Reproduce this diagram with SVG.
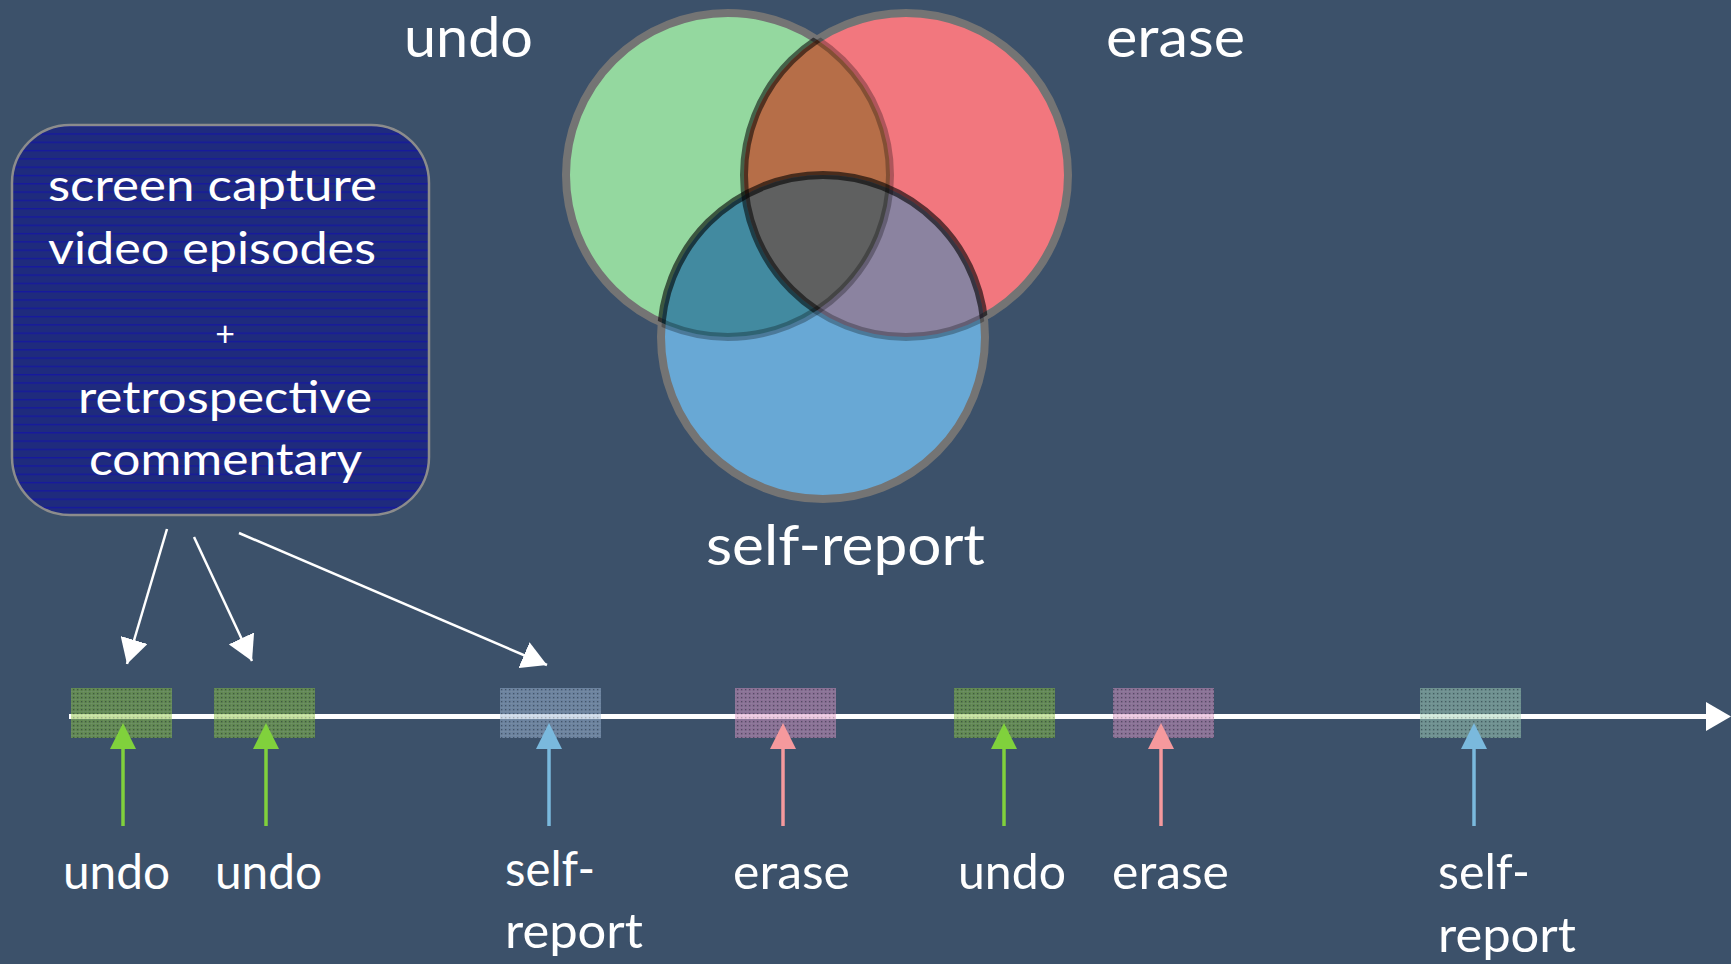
<svg xmlns="http://www.w3.org/2000/svg" width="1731" height="964" viewBox="0 0 1731 964">
<style>
  .lbl { font-family: Lato, "Liberation Sans", sans-serif; fill: #ffffff; }
  .big { font-size: 56px; }
  .box { font-size: 44px; }
  .sm { font-size: 48px; }
  .conn { stroke: #ffffff; stroke-width: 2.5; fill: none; }
  .evbox { opacity: 0.5; }
</style>
<defs>
  <pattern id="stripes" x="0" y="125" width="8" height="8.3" patternUnits="userSpaceOnUse">
    <rect width="8" height="8.3" fill="#1f2b7d"/>
    <rect y="0" width="8" height="1.4" fill="#16199e"/>
  </pattern>
  <pattern id="dots" width="4" height="4" patternUnits="userSpaceOnUse">
    <rect x="1" y="1" width="1.3" height="1.3" fill="#000000" opacity="0.5"/>
    <rect x="0" y="3" width="4" height="0.7" fill="#ffffff" opacity="0.2"/>
    <rect x="3" y="0" width="0.7" height="4" fill="#ffffff" opacity="0.12"/>
  </pattern>
  <clipPath id="cG"><circle cx="728" cy="175" r="162"/></clipPath>
  <clipPath id="cR"><circle cx="906" cy="175" r="162"/></clipPath>
  <clipPath id="cB"><circle cx="823" cy="337" r="162"/></clipPath>
  <mask id="mOutG" maskUnits="userSpaceOnUse" x="0" y="0" width="1731" height="964">
    <rect width="1731" height="964" fill="#fff"/>
    <circle cx="906" cy="175" r="162" fill="#000"/>
    <circle cx="823" cy="337" r="162" fill="#000"/>
  </mask>
  <mask id="mInG" maskUnits="userSpaceOnUse" x="0" y="0" width="1731" height="964">
    <circle cx="906" cy="175" r="162" fill="#fff"/>
    <circle cx="823" cy="337" r="162" fill="#fff"/>
  </mask>
  <mask id="mOutR" maskUnits="userSpaceOnUse" x="0" y="0" width="1731" height="964">
    <rect width="1731" height="964" fill="#fff"/>
    <circle cx="728" cy="175" r="162" fill="#000"/>
    <circle cx="823" cy="337" r="162" fill="#000"/>
  </mask>
  <mask id="mRinG" maskUnits="userSpaceOnUse" x="0" y="0" width="1731" height="964">
    <circle cx="728" cy="175" r="162" fill="#fff"/>
  </mask>
  <mask id="mRinBnotG" maskUnits="userSpaceOnUse" x="0" y="0" width="1731" height="964">
    <circle cx="823" cy="337" r="162" fill="#fff"/>
    <circle cx="728" cy="175" r="162" fill="#000"/>
  </mask>
  <mask id="mOutB" maskUnits="userSpaceOnUse" x="0" y="0" width="1731" height="964">
    <rect width="1731" height="964" fill="#fff"/>
    <circle cx="728" cy="175" r="162" fill="#000"/>
    <circle cx="906" cy="175" r="162" fill="#000"/>
  </mask>
  <mask id="mInB" maskUnits="userSpaceOnUse" x="0" y="0" width="1731" height="964">
    <circle cx="728" cy="175" r="162" fill="#fff"/>
    <circle cx="906" cy="175" r="162" fill="#fff"/>
  </mask>
  <marker id="wh" markerUnits="userSpaceOnUse" markerWidth="26" markerHeight="28" refX="25" refY="14" orient="auto" viewBox="0 0 26 28">
    <path d="M0,0 L25,14 L0,28 Z" fill="#ffffff"/>
  </marker>
</defs>

<rect width="1731" height="964" fill="#3c516a"/>

<!-- Venn diagram -->
<g id="venn">
  <g id="fills">
    <circle cx="728" cy="175" r="162" fill="#94d89f"/>
    <circle cx="906" cy="175" r="162" fill="#f2777e"/>
    <circle cx="823" cy="337" r="162" fill="#68a8d5"/>
    <circle cx="906" cy="175" r="162" fill="#b66e48" clip-path="url(#cG)"/>
    <circle cx="823" cy="337" r="162" fill="#428aa0" clip-path="url(#cG)"/>
    <circle cx="823" cy="337" r="162" fill="#8b83a0" clip-path="url(#cR)"/>
    <g clip-path="url(#cG)"><circle cx="823" cy="337" r="162" fill="#5f6060" clip-path="url(#cR)"/></g>
  </g>
  <g id="strokes" fill="none" stroke-width="8">
    <circle cx="728" cy="175" r="162" stroke="#747474" mask="url(#mOutG)"/>
    <circle cx="906" cy="175" r="162" stroke="#747474" mask="url(#mOutR)"/>
    <circle cx="823" cy="337" r="162" stroke="#747474" mask="url(#mOutB)"/>
    <circle cx="728" cy="175" r="162" stroke="#000" stroke-opacity="0.28" mask="url(#mInG)"/>
    <circle cx="906" cy="175" r="162" stroke="#000" stroke-opacity="0.55" mask="url(#mRinG)"/>
    <circle cx="906" cy="175" r="162" stroke="#000" stroke-opacity="0.28" mask="url(#mRinBnotG)"/>
    <circle cx="823" cy="337" r="162" stroke="#000" stroke-opacity="0.6" mask="url(#mInB)"/>
  </g>
</g>

<g id="venn-labels">
  <text class="lbl big" x="404" y="57" textLength="129" lengthAdjust="spacingAndGlyphs">undo</text>
  <text class="lbl big" x="1106" y="57" textLength="139" lengthAdjust="spacingAndGlyphs">erase</text>
  <text class="lbl big" x="706" y="565" textLength="279" lengthAdjust="spacingAndGlyphs">self-report</text>
</g>

<!-- Source box -->
<g id="source">
  <rect x="12" y="125" width="417" height="390" rx="58" ry="58" fill="url(#stripes)" stroke="#8c8c8c" stroke-width="2.5"/>
  <text class="lbl box" x="48" y="201" textLength="329" lengthAdjust="spacingAndGlyphs">screen capture</text>
  <text class="lbl box" x="48" y="264" textLength="328" lengthAdjust="spacingAndGlyphs">video episodes</text>
  <text class="lbl" x="225" y="346" font-size="34" text-anchor="middle">+</text>
  <text class="lbl box" x="78" y="413" textLength="294" lengthAdjust="spacingAndGlyphs">retrospective</text>
  <text class="lbl box" x="89" y="475" textLength="273" lengthAdjust="spacingAndGlyphs">commentary</text>
</g>

<!-- Timeline -->
<g id="timeline">
  <line x1="69" y1="716.5" x2="1710" y2="716.5" stroke="#ffffff" stroke-width="5"/>
  <polygon points="1706,702 1731,716.5 1706,731" fill="#ffffff"/>
</g>

<!-- Event boxes -->
<g id="events">
  <g id="ev1" class="evbox"><rect x="71" y="688" width="101" height="50" fill="#86c03a"/><rect x="71" y="688" width="101" height="50" fill="url(#dots)"/></g>
  <g id="ev2" class="evbox"><rect x="214" y="688" width="101" height="50" fill="#86c03a"/><rect x="214" y="688" width="101" height="50" fill="url(#dots)"/></g>
  <g id="ev3" class="evbox"><rect x="500" y="688" width="101" height="50" fill="#9ab4d2"/><rect x="500" y="688" width="101" height="50" fill="url(#dots)"/></g>
  <g id="ev4" class="evbox"><rect x="735" y="688" width="101" height="50" fill="#d88fc0"/><rect x="735" y="688" width="101" height="50" fill="url(#dots)"/></g>
  <g id="ev5" class="evbox"><rect x="954" y="688" width="101" height="50" fill="#86c03a"/><rect x="954" y="688" width="101" height="50" fill="url(#dots)"/></g>
  <g id="ev6" class="evbox"><rect x="1113" y="688" width="101" height="50" fill="#d88fc0"/><rect x="1113" y="688" width="101" height="50" fill="url(#dots)"/></g>
  <g id="ev7" class="evbox"><rect x="1420" y="688" width="101" height="50" fill="#9ed0b5"/><rect x="1420" y="688" width="101" height="50" fill="url(#dots)"/></g>
</g>

<!-- Connectors -->
<g id="connectors">
  <line class="conn" x1="167" y1="529" x2="127" y2="664" marker-end="url(#wh)"/>
  <line class="conn" x1="194" y1="537" x2="252" y2="661" marker-end="url(#wh)"/>
  <line class="conn" x1="239" y1="533" x2="547" y2="665" marker-end="url(#wh)"/>
</g>

<!-- Event arrows -->
<g id="event-arrows">
  <g fill="#80d13c" stroke="#80d13c">
    <line x1="123" y1="748" x2="123" y2="826" stroke-width="3.5"/><polygon points="123,723 136,749 110,749" stroke="none"/>
    <line x1="266" y1="748" x2="266" y2="826" stroke-width="3.5"/><polygon points="266,723 279,749 253,749" stroke="none"/>
    <line x1="1004" y1="748" x2="1004" y2="826" stroke-width="3.5"/><polygon points="1004,723 1017,749 991,749" stroke="none"/>
  </g>
  <g fill="#7ab9dd" stroke="#7ab9dd">
    <line x1="549" y1="748" x2="549" y2="826" stroke-width="3.5"/><polygon points="549,723 562,749 536,749" stroke="none"/>
    <line x1="1474" y1="748" x2="1474" y2="826" stroke-width="3.5"/><polygon points="1474,723 1487,749 1461,749" stroke="none"/>
  </g>
  <g fill="#f5999d" stroke="#f5999d">
    <line x1="783" y1="748" x2="783" y2="826" stroke-width="3.5"/><polygon points="783,723 796,749 770,749" stroke="none"/>
    <line x1="1161" y1="748" x2="1161" y2="826" stroke-width="3.5"/><polygon points="1161,723 1174,749 1148,749" stroke="none"/>
  </g>
</g>

<!-- Event labels -->
<g id="event-labels">
  <text class="lbl sm" x="63" y="889" textLength="107" lengthAdjust="spacingAndGlyphs">undo</text>
  <text class="lbl sm" x="215" y="889" textLength="107" lengthAdjust="spacingAndGlyphs">undo</text>
  <text class="lbl sm" x="505" y="886" textLength="90" lengthAdjust="spacingAndGlyphs">self-</text>
  <text class="lbl sm" x="505" y="948" textLength="138" lengthAdjust="spacingAndGlyphs">report</text>
  <text class="lbl sm" x="733" y="889" textLength="117" lengthAdjust="spacingAndGlyphs">erase</text>
  <text class="lbl sm" x="958" y="889" textLength="108" lengthAdjust="spacingAndGlyphs">undo</text>
  <text class="lbl sm" x="1112" y="889" textLength="117" lengthAdjust="spacingAndGlyphs">erase</text>
  <text class="lbl sm" x="1438" y="889" textLength="92" lengthAdjust="spacingAndGlyphs">self-</text>
  <text class="lbl sm" x="1438" y="952" textLength="138" lengthAdjust="spacingAndGlyphs">report</text>
</g>
</svg>
